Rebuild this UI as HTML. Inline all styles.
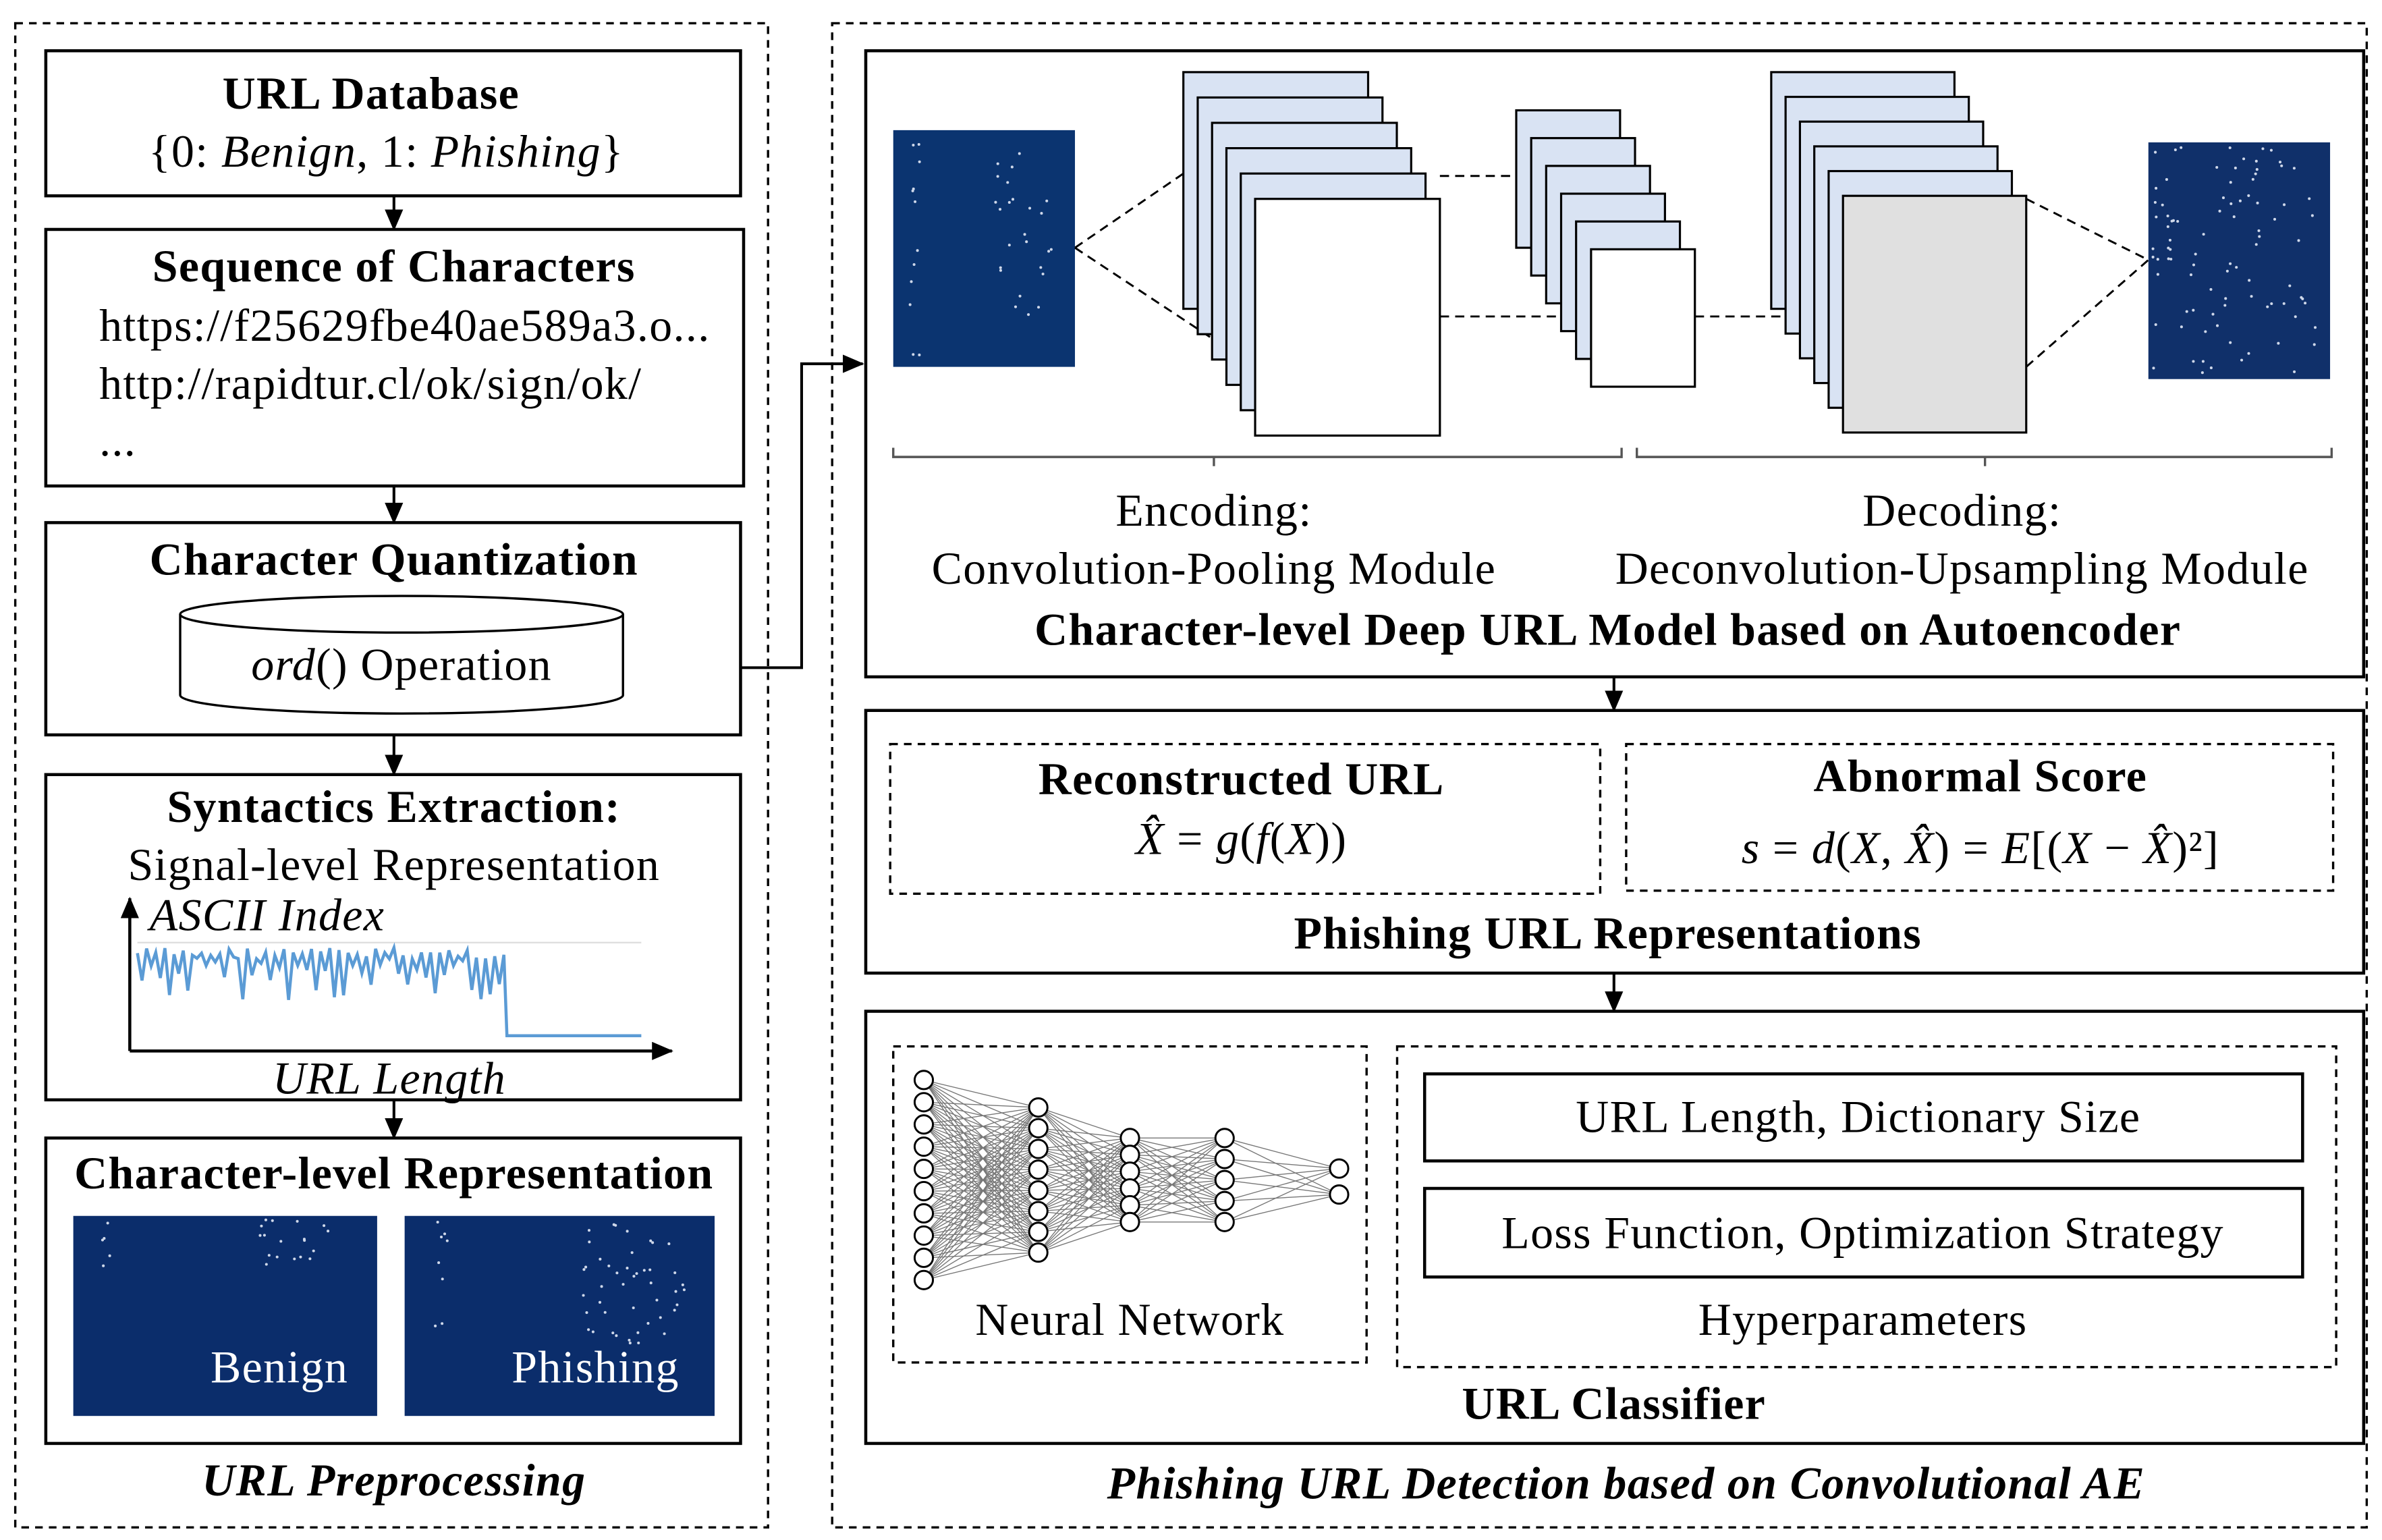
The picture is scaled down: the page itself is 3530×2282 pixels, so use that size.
<!DOCTYPE html>
<html><head><meta charset="utf-8"><style>
html,body{margin:0;padding:0;background:#fff;}
svg{display:block;}
text{font-family:"Liberation Serif",serif;fill:#000;letter-spacing:0.6px;}
.t{font-size:30px;font-weight:bold;}
.n{font-size:30px;}
.i{font-style:italic;}
</style></head><body>
<svg id="s" width="3530" height="2282" viewBox="0 0 1560 1008" xmlns="http://www.w3.org/2000/svg">
<defs>
<marker id="b" markerWidth="14" markerHeight="12" refX="13" refY="6" orient="auto" markerUnits="userSpaceOnUse"><path d="M0,0 L14,6 L0,12z" fill="#000"/></marker>
</defs>
<g fill="none" stroke="#000" stroke-width="1.5" stroke-dasharray="5,4">
<rect x="10" y="15" width="493" height="985"/>
<rect x="545" y="15" width="1005" height="985"/>
<rect x="583" y="487" width="465" height="98"/>
<rect x="1065" y="487" width="463" height="96"/>
<rect x="585" y="685" width="310" height="207"/>
<rect x="915" y="685" width="615" height="210"/>
</g>
<g fill="none" stroke="#000" stroke-width="2">
<rect x="30" y="33" width="455" height="95"/>
<rect x="30" y="150" width="457" height="168"/>
<rect x="30" y="342" width="455" height="139"/>
<rect x="30" y="507" width="455" height="213"/>
<rect x="30" y="745" width="455" height="200"/>
<rect x="567" y="33" width="981" height="410"/>
<rect x="567" y="465" width="981" height="172"/>
<rect x="567" y="662" width="981" height="283"/>
<rect x="933" y="703" width="575" height="57"/>
<rect x="933" y="778" width="575" height="58"/>
</g>
<g stroke="#000" stroke-width="1.8" marker-end="url(#b)">
<line x1="258" y1="128" x2="258" y2="150"/>
<line x1="258" y1="318" x2="258" y2="342"/>
<line x1="258" y1="481" x2="258" y2="507"/>
<line x1="258" y1="720" x2="258" y2="745"/>
<line x1="1057" y1="443" x2="1057" y2="465"/>
<line x1="1057" y1="637" x2="1057" y2="662"/>
<polyline points="485,437 525,437 525,238 565,238" fill="none"/>
</g>
<text class="t" x="243" y="71" text-anchor="middle">URL Database</text>
<text class="n" x="253" y="109" text-anchor="middle">{0: <tspan class="i">Benign</tspan>, 1: <tspan class="i">Phishing</tspan>}</text>
<text class="t" x="258" y="184" text-anchor="middle">Sequence of Characters</text>
<text class="n" x="65" y="223">https://f25629fbe40ae589a3.o...</text>
<text class="n" x="65" y="261">http://rapidtur.cl/ok/sign/ok/</text>
<text class="n" x="65" y="298">...</text>
<text class="t" x="258" y="376" text-anchor="middle">Character Quantization</text>
<path d="M118,402 L118,455 A145,12 0 0 0 408,455 L408,402" fill="#fff" stroke="#000" stroke-width="1.5"/>
<ellipse cx="263" cy="402" rx="145" ry="12" fill="#fff" stroke="#000" stroke-width="1.5"/>
<text class="n" x="263" y="445" text-anchor="middle"><tspan class="i">ord</tspan>() Operation</text>
<text class="t" x="258" y="538" text-anchor="middle">Syntactics Extraction:</text>
<text class="n" x="258" y="576" text-anchor="middle">Signal-level Representation</text>
<line x1="85" y1="688" x2="85" y2="588" stroke="#000" stroke-width="2" marker-end="url(#b)"/>
<line x1="85" y1="688" x2="440" y2="688" stroke="#000" stroke-width="2" marker-end="url(#b)"/>
<line x1="90" y1="617" x2="420" y2="617" stroke="#ddd" stroke-width="1"/>
<polyline id="sig" fill="none" stroke="#5b9bd5" stroke-width="2"/>
<text class="n i" x="98" y="609">ASCII Index</text>
<text class="n i" x="255" y="716" text-anchor="middle">URL Length</text>
<text class="t" x="258" y="778" text-anchor="middle">Character-level Representation</text>
<rect x="48" y="796" width="199" height="131" fill="#0b2d6b"/>
<rect x="265" y="796" width="203" height="131" fill="#0b2d6b"/>
<g id="d1"></g>
<text class="n" x="183" y="905" text-anchor="middle" style="fill:#fff">Benign</text>
<text class="n" x="390" y="905" text-anchor="middle" style="fill:#fff">Phishing</text>
<text class="t i" x="258" y="979" text-anchor="middle">URL Preprocessing</text>

<rect x="585" y="85" width="119" height="155" fill="#0b3470"/>
<rect x="1407" y="93" width="119" height="155" fill="#10306a"/>
<g id="d2"></g>
<g fill="none" stroke="#000" stroke-width="1.3" stroke-dasharray="6,4">
<line x1="704" y1="162" x2="780" y2="110"/>
<line x1="704" y1="162" x2="822" y2="240"/>
<line x1="943" y1="115" x2="993" y2="115"/>
<line x1="943" y1="207" x2="1042" y2="207"/>
<line x1="1110" y1="207" x2="1207" y2="207"/>
<line x1="1327" y1="130" x2="1407" y2="170"/>
<line x1="1327" y1="240" x2="1407" y2="170"/>
</g>
<g id="stk"></g>
<path d="M585,293 v6 h210 v6 v-6 h267 v-6 M1072,293 v6 h228 v6 v-6 h227 v-6" fill="none" stroke="#555" stroke-width="1.5"/>
<text class="n" x="795" y="344" text-anchor="middle">Encoding:</text>
<text class="n" x="795" y="382" text-anchor="middle">Convolution-Pooling Module</text>
<text class="n" x="1285" y="344" text-anchor="middle">Decoding:</text>
<text class="n" x="1285" y="382" text-anchor="middle">Deconvolution-Upsampling Module</text>
<text class="t" x="1053" y="422" text-anchor="middle">Character-level Deep URL Model based on Autoencoder</text>
<text class="t" x="813" y="520" text-anchor="middle">Reconstructed URL</text>
<text class="n" x="813" y="559" text-anchor="middle"><tspan class="i">X̂</tspan> = <tspan class="i">g</tspan>(<tspan class="i">f</tspan>(<tspan class="i">X</tspan>))</text>
<text class="t" x="1297" y="518" text-anchor="middle">Abnormal Score</text>
<text class="n" x="1297" y="565" text-anchor="middle"><tspan class="i">s</tspan> = <tspan class="i">d</tspan>(<tspan class="i">X</tspan>, <tspan class="i">X̂</tspan>) = <tspan class="i">E</tspan>[(<tspan class="i">X</tspan> − <tspan class="i">X̂</tspan>)²]</text>
<text class="t" x="1053" y="621" text-anchor="middle">Phishing URL Representations</text>
<g id="nn"></g>
<text class="n" x="740" y="874" text-anchor="middle">Neural Network</text>
<text class="n" x="1217" y="741" text-anchor="middle">URL Length, Dictionary Size</text>
<text class="n" x="1220" y="817" text-anchor="middle">Loss Function, Optimization Strategy</text>
<text class="n" x="1220" y="874" text-anchor="middle">Hyperparameters</text>
<text class="t" x="1057" y="929" text-anchor="middle">URL Classifier</text>
<text class="t i" x="1065" y="981" text-anchor="middle">Phishing URL Detection based on Convolutional AE</text>
</svg>
<script>
var NS="http://www.w3.org/2000/svg";
function el(p,t,a){var e=document.createElementNS(NS,t);for(var k in a)e.setAttribute(k,a[k]);p.appendChild(e);return e;}
var seed=7;function r(){seed=(seed*9301+49297)%233280;return seed/233280;}
var pts=[],x=90;while(x<330){pts.push(x+","+(620+r()*8));x+=3;pts.push(x+","+(625+r()*30));x+=3;}
pts.push("330,625","332,678","420,678");document.getElementById("sig").setAttribute("points",pts.join(" "));
var d1=document.getElementById("d1");
function dots(g,x0,y0,w,h,n){for(var i=0;i<n;i++)el(g,"circle",{cx:x0+r()*w,cy:y0+r()*h,r:0.9,fill:"#cfd8ea"});}
dots(d1,65,800,10,30,5);dots(d1,170,798,50,30,18);dots(d1,285,800,10,90,8);dots(d1,380,800,70,80,45);
var d2=document.getElementById("d2");dots(d2,595,90,8,150,12);dots(d2,650,90,40,120,25);dots(d2,1410,96,110,148,90);
var st=document.getElementById("stk");
function stack(x0,y0,w,h,n,dx,dy,last){for(var i=0;i<n;i++){var f=i==n-1?last:"#d9e3f3";el(st,"rect",{x:x0+i*dx,y:y0+i*dy,width:w,height:h,fill:f,stroke:"#000","stroke-width":1.4});}}
stack(775,47,121,155,6,9.4,16.6,"#fff");
stack(993,72,68,90,6,9.8,18.2,"#fff");
stack(1160,47,120,155,6,9.4,16.2,"#e0e0e0");
var nn=document.getElementById("nn");
var L=[[605,10,707,838],[680,8,725,820],[740,6,745,800],[802,5,745,800],[877,2,765,782]];
var P=L.map(function(l){var a=[];for(var i=0;i<l[1];i++)a.push([l[0],l[2]+(l[3]-l[2])*i/(l[1]-1)]);return a;});
for(var k=0;k<P.length-1;k++)P[k].forEach(function(a){P[k+1].forEach(function(b){el(nn,"line",{x1:a[0],y1:a[1],x2:b[0],y2:b[1],stroke:"#777","stroke-width":0.6});});});
P.forEach(function(l){l.forEach(function(a){el(nn,"circle",{cx:a[0],cy:a[1],r:6,fill:"#fff",stroke:"#000","stroke-width":1.3});});});
</script>
</body></html>
